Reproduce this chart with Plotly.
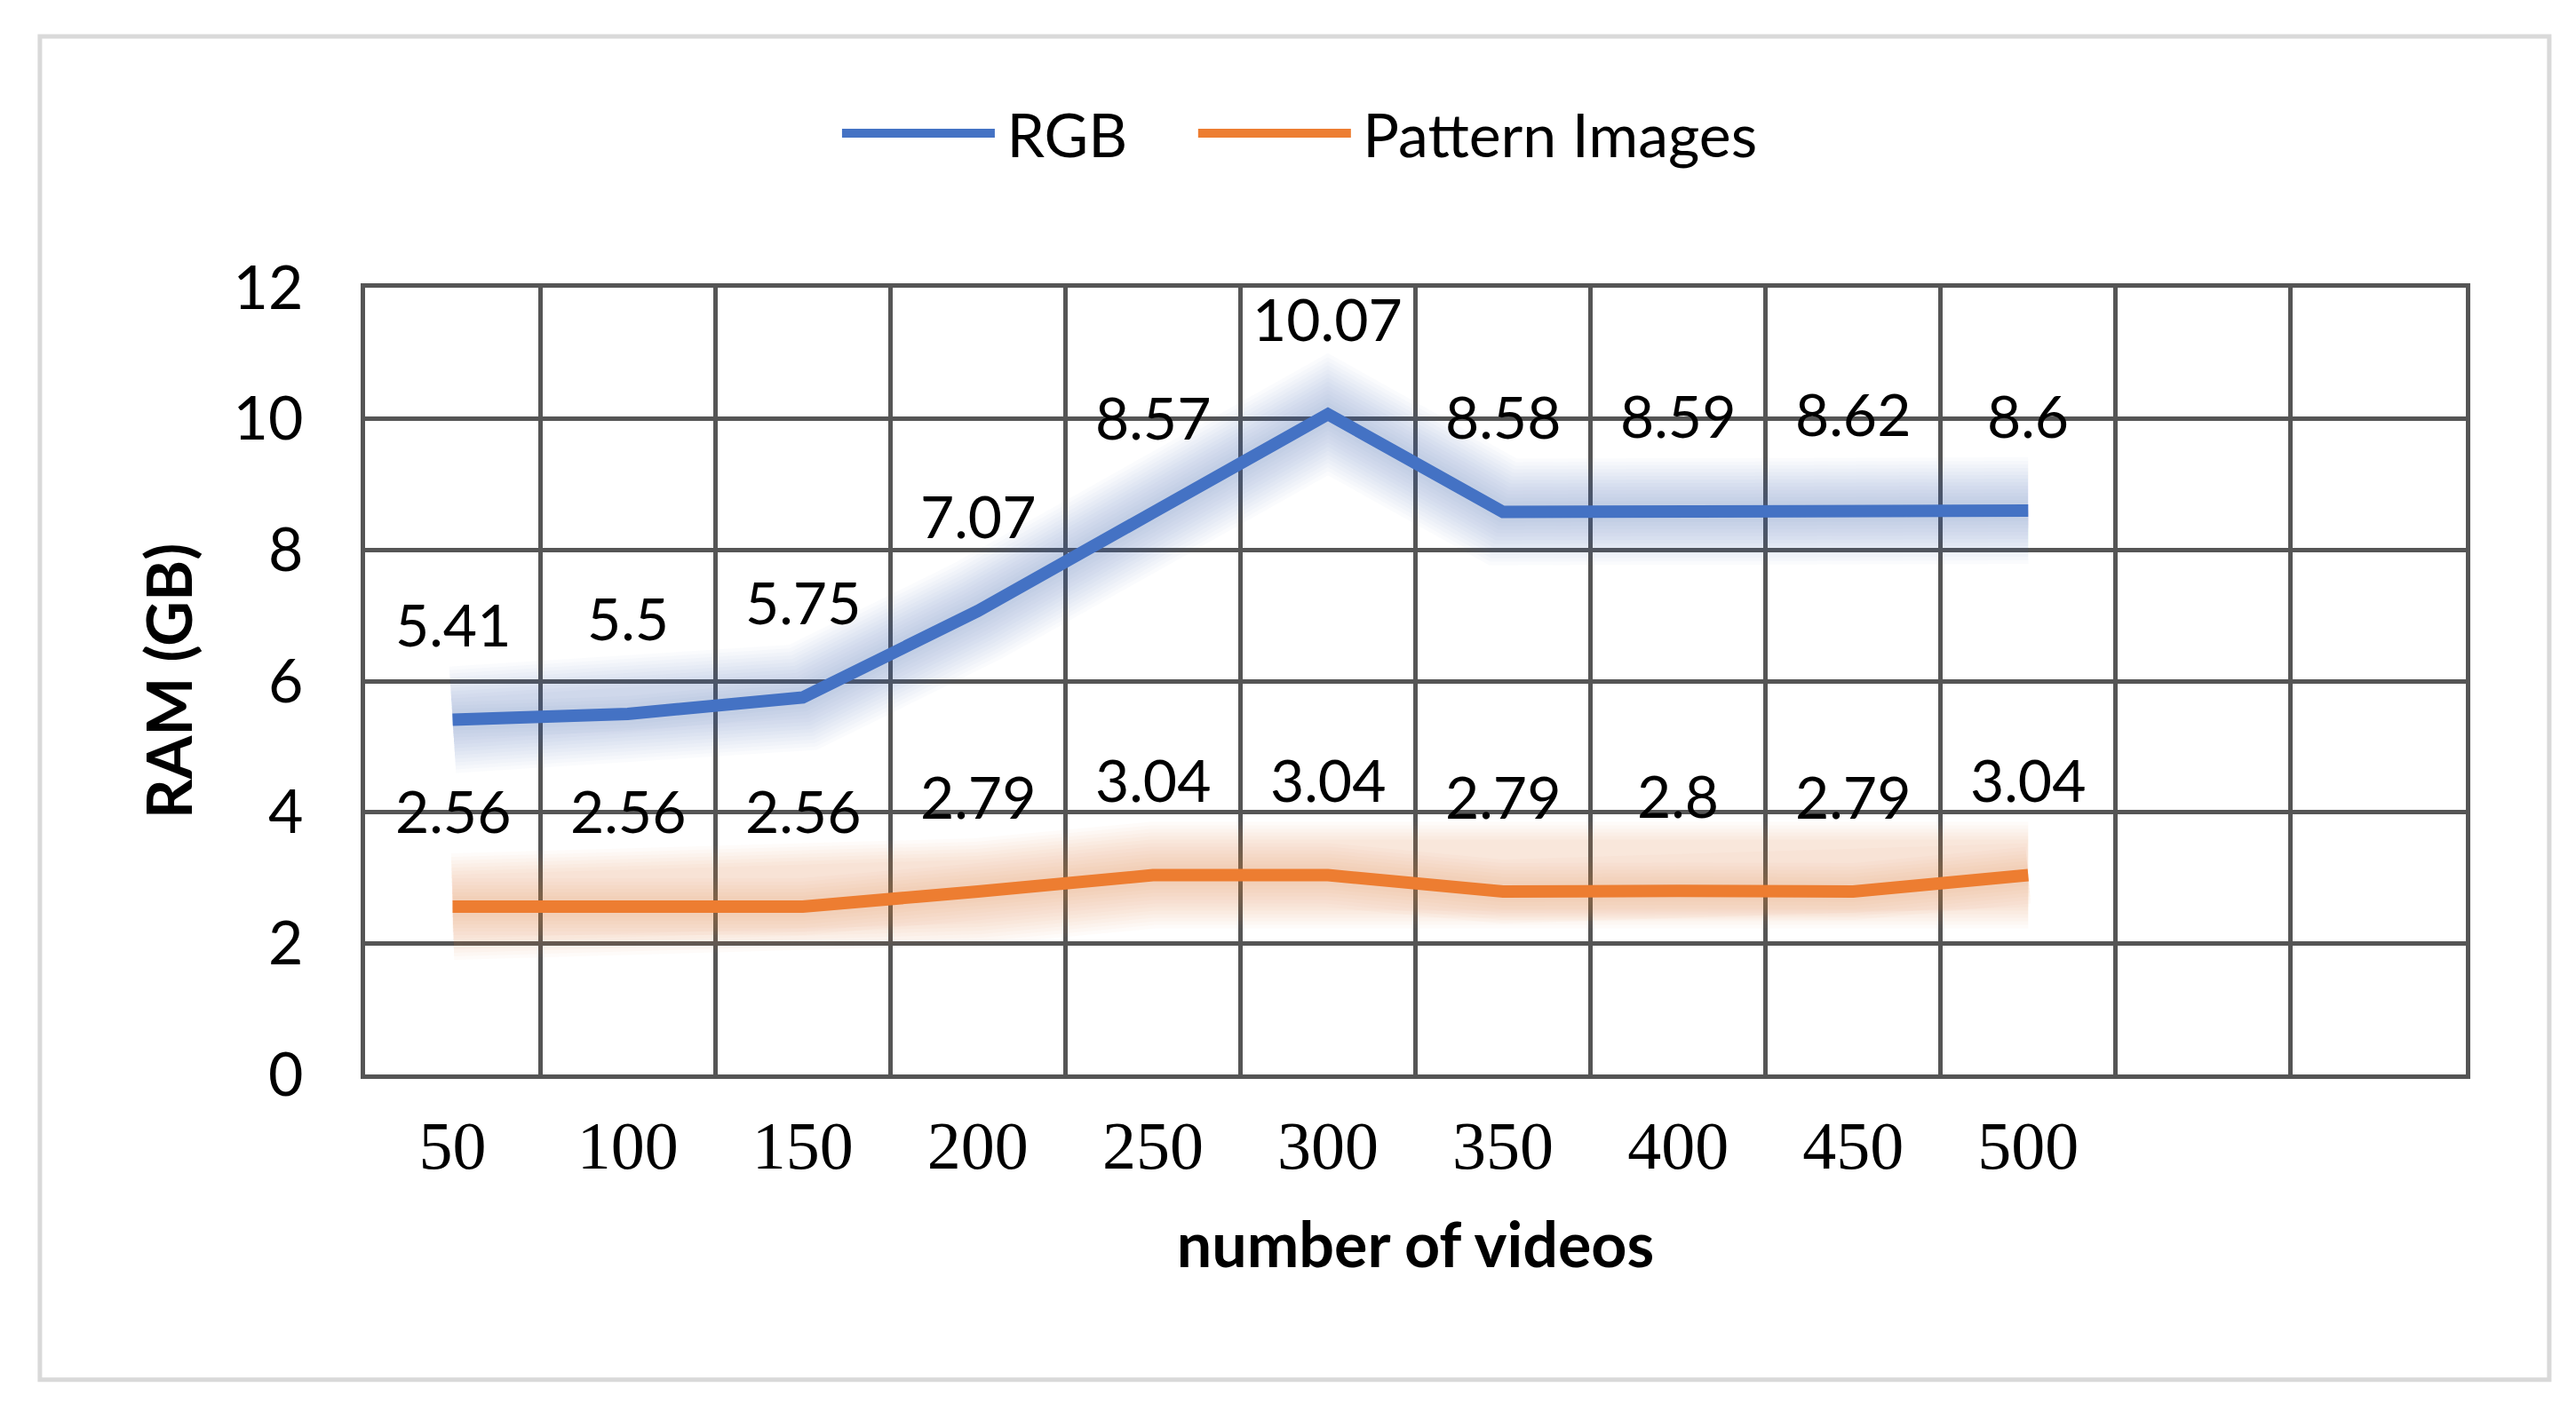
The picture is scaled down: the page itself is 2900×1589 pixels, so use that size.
import plotly.graph_objects as go

videos = ['50', '100', '150', '200', '250', '300', '350', '400', '450', '500']
empty_cols = [' ', '  ']
rgb = [5.41, 5.5, 5.75, 7.07, 8.57, 10.07, 8.58, 8.59, 8.62, 8.6]
pattern = [2.56, 2.56, 2.56, 2.79, 3.04, 3.04, 2.79, 2.8, 2.79, 3.04]

blue = '#4472C4'
orange = '#ED7D31'
grid = '#555555'
sans = 'Lato'
serif = 'Liberation Serif'

fig = go.Figure()

# soft glow behind the lines
for w in range(24, 125, 8):
    fig.add_trace(go.Scatter(x=videos, y=rgb, mode='lines', showlegend=False, hoverinfo='skip',
                             line=dict(color='rgba(68,114,196,0.028)', width=w)))
    fig.add_trace(go.Scatter(x=videos, y=pattern, mode='lines', showlegend=False, hoverinfo='skip',
                             line=dict(color='rgba(237,125,49,0.032)', width=w)))

fig.add_trace(go.Scatter(x=videos, y=rgb, mode='lines', name='\u2009RGB\u00a0\u00a0\u00a0\u00a0',
                         line=dict(color=blue, width=14)))
fig.add_trace(go.Scatter(x=videos, y=pattern, mode='lines', name='\u2009Pattern Images',
                         line=dict(color=orange, width=14)))

# data labels (annotations on a category axis take the category index)
for series in [rgb, pattern]:
    for i, yv in enumerate(series):
        fig.add_annotation(x=i, y=yv, text=str(yv), showarrow=False, yshift=108,
                           font=dict(family=sans, size=66, color='black'))

# outer frame
fig.add_shape(type='rect', xref='paper', yref='paper', x0=-0.1548, x1=1.0397, y0=-0.388, y1=1.3194,
              line=dict(color='#D9D9D9', width=5), layer='below')

fig.update_layout(
    width=2900, height=1589,
    margin=dict(l=403, r=132, t=316, b=387),
    paper_bgcolor='white', plot_bgcolor='white',
    legend=dict(orientation='h', x=0.445, y=1.196, xanchor='center', yanchor='middle',
                font=dict(family=sans, size=68, color='black'), itemwidth=172),
    xaxis=dict(type='category', categoryorder='array', categoryarray=videos + empty_cols,
               range=[-0.5, 11.5], tickson='boundaries', ticks='',
               showgrid=True, gridcolor=grid, gridwidth=5,
               showline=True, linecolor=grid, linewidth=5, mirror=True,
               tickfont=dict(family=serif, size=76, color='black'), ticklabelstandoff=10,
               title=dict(text='<b>number of videos</b>', standoff=48,
                          font=dict(family=sans, size=70, color='black'))),
    yaxis=dict(range=[0, 12], dtick=2, tick0=0, ticks='',
               showgrid=True, gridcolor=grid, gridwidth=5, zeroline=False,
               showline=True, linecolor=grid, linewidth=5, mirror=True,
               tickfont=dict(family=sans, size=68, color='black'), ticklabelstandoff=51,
               title=dict(text='<b>RAM (GB)</b>', standoff=25,
                          font=dict(family=sans, size=70, color='black'))),
)

fig.write_html('out.html')
